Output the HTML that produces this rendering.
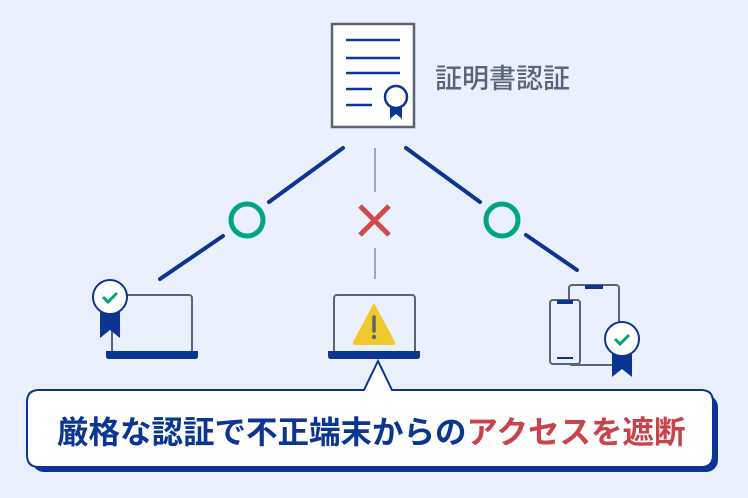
<!DOCTYPE html>
<html><head><meta charset="utf-8"><style>
html,body{margin:0;padding:0;background:#eaf0fd;}
svg{display:block}
</style></head><body>
<svg width="748" height="498" viewBox="0 0 748 498" xmlns="http://www.w3.org/2000/svg">
<rect width="748" height="498" fill="#eaf0fd"/>
<!-- certificate -->
<rect x="332" y="24" width="82" height="103" fill="#fff" stroke="#5b6472" stroke-width="2.5"/>
<g stroke="#0b3592" stroke-width="2.5">
<line x1="346" y1="40" x2="400" y2="40"/>
<line x1="346" y1="58" x2="400" y2="58"/>
<line x1="346" y1="73" x2="400" y2="73"/>
<line x1="346" y1="89" x2="372" y2="89"/>
<line x1="346" y1="105" x2="372" y2="105"/>
</g>
<path d="M390 103 L390 119 L396 114 L402 119 L402 103 Z" fill="#0b3592"/>
<circle cx="396" cy="97" r="11" fill="#fff" stroke="#0b3592" stroke-width="2.5"/>
<text x="435" y="88" font-family="Liberation Sans, Noto Sans CJK JP, sans-serif" font-size="27" font-weight="500" fill="#5b6472">証明書認証</text>
<!-- lines -->
<g stroke="#0b3592" stroke-width="4" stroke-linecap="round">
<line x1="343" y1="148" x2="269" y2="202"/>
<line x1="223" y1="236" x2="160" y2="279"/>
<line x1="406" y1="148" x2="480" y2="202"/>
<line x1="526" y1="235" x2="577" y2="270"/>
</g>
<g stroke="#a0a7b3" stroke-width="2">
<line x1="375" y1="148" x2="375" y2="192"/>
<line x1="375" y1="248" x2="375" y2="279"/>
</g>
<circle cx="247" cy="220" r="16" fill="none" stroke="#00a67e" stroke-width="5"/>
<circle cx="502" cy="220" r="16" fill="none" stroke="#00a67e" stroke-width="5"/>
<g stroke="#d04a4c" stroke-width="5">
<line x1="360" y1="206" x2="389" y2="235"/>
<line x1="389" y1="206" x2="360" y2="235"/>
</g>
<!-- left laptop -->
<rect x="112" y="295" width="80" height="58" rx="3" fill="none" stroke="#5b6472" stroke-width="2"/>
<path d="M106 351 H198 V356 Q198 359 195 359 H109 Q106 359 106 356 Z" fill="#0b3592"/>
<path d="M100 310 L100 338 L110 330 L120 338 L120 310 Z" fill="#0b3592"/>
<circle cx="110" cy="297" r="17" fill="#fff" stroke="#0b3592" stroke-width="2"/>
<path d="M103 297 L108 302 L117 293" fill="none" stroke="#00a67e" stroke-width="3"/>
<!-- middle laptop -->
<rect x="334" y="295" width="81" height="58" rx="3" fill="none" stroke="#5b6472" stroke-width="2"/>
<path d="M328 351 H420 V356 Q420 359 417 359 H331 Q328 359 328 356 Z" fill="#0b3592"/>
<path d="M374 305 L394 342 Q395 344 392 344 H356 Q353 344 354 342 Z" fill="#f2c92c" stroke="#f2c92c" stroke-width="2" stroke-linejoin="round"/>
<line x1="374" y1="317" x2="374" y2="331" stroke="#5b6472" stroke-width="3.5" stroke-linecap="round"/>
<circle cx="374" cy="337" r="2.2" fill="#5b6472"/>
<!-- right devices -->
<rect x="569" y="285" width="50" height="80" rx="3" fill="none" stroke="#5b6472" stroke-width="2"/>
<rect x="585" y="285" width="18" height="4" fill="#0b3592"/>
<rect x="550" y="300" width="30" height="64" rx="3" fill="#eaf0fd" stroke="#5b6472" stroke-width="2"/>
<rect x="557" y="300" width="16" height="4" fill="#0b3592"/>
<line x1="557" y1="358" x2="573" y2="358" stroke="#0b3592" stroke-width="2"/>
<path d="M612 350 L612 377 L622 369 L632 377 L632 350 Z" fill="#0b3592"/>
<circle cx="622" cy="339" r="17" fill="#fff" stroke="#0b3592" stroke-width="2"/>
<path d="M615 339 L620 344 L629 335" fill="none" stroke="#00a67e" stroke-width="3"/>
<!-- callout -->
<rect x="32" y="395" width="686" height="77" rx="12" fill="#0b3592"/>
<path d="M39 390 H364 L378 361 L392 390 H701 Q713 390 713 402 V455 Q713 467 701 467 H39 Q27 467 27 455 V402 Q27 390 39 390 Z" fill="#fff" stroke="#0b3592" stroke-width="2"/>
<line x1="366" y1="391" x2="390" y2="391" stroke="#fff" stroke-width="3"/>
<text x="57" y="443" font-family="Liberation Sans, Noto Sans CJK JP, sans-serif" font-size="31.5" font-weight="bold" fill="#0b3592">厳格な認証で不正端末からの<tspan fill="#c8434a">アクセスを遮断</tspan></text>
</svg>
</body></html>
